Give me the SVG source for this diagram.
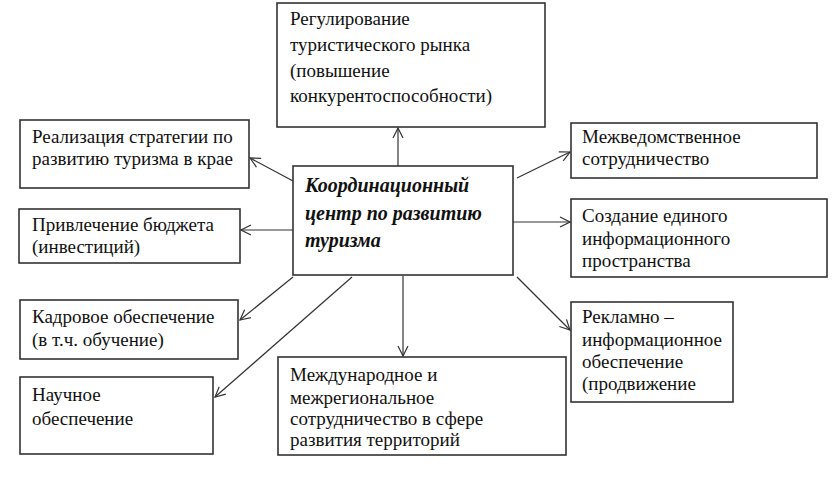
<svg xmlns="http://www.w3.org/2000/svg" width="832" height="484" viewBox="0 0 832 484">
<defs>
<marker id="arr" viewBox="0 0 12 12" refX="11" refY="6" markerWidth="12" markerHeight="12" markerUnits="userSpaceOnUse" orient="auto">
<path d="M1,1 L11,6 L1,11" fill="none" stroke="#333" stroke-width="1.2"/>
</marker>
</defs>
<rect width="832" height="484" fill="#fff"/>
<g id="connectors" stroke="#333" stroke-width="1.2" fill="none" marker-end="url(#arr)">
<line x1="398" y1="166" x2="398" y2="128"/>
<line x1="293" y1="181" x2="250" y2="158"/>
<line x1="293" y1="230" x2="241" y2="230"/>
<line x1="293" y1="277" x2="240" y2="320"/>
<line x1="352" y1="277" x2="215" y2="397"/>
<line x1="403" y1="276" x2="403" y2="356"/>
<line x1="517" y1="277" x2="570" y2="330"/>
<line x1="517" y1="178" x2="570" y2="152"/>
<line x1="513" y1="222" x2="570" y2="222"/>
</g>
<g id="nodes" fill="#111" font-size="19" font-family="Times New Roman, Liberation Serif, serif">
<g id="n-top">
<rect fill="#fff" stroke="#333" stroke-width="1.6" x="277" y="3" width="268" height="124"/>
<text x="290" y="25">Регулирование</text>
<text x="290" y="51">туристического рынка</text>
<text x="290" y="77">(повышение</text>
<text x="290" y="102">конкурентоспособности)</text>
</g>
<g id="n-center" font-size="20" font-weight="bold" font-style="italic">
<rect fill="#fff" stroke="#333" stroke-width="1.6" x="293" y="166" width="220" height="109"/>
<text x="305" y="192">Координационный</text>
<text x="305" y="220">центр по развитию</text>
<text x="305" y="247">туризма</text>
</g>
<g id="n-l1">
<rect fill="#fff" stroke="#333" stroke-width="1.6" x="20" y="120" width="229" height="68"/>
<text x="32" y="143">Реализация стратегии по</text>
<text x="32" y="165">развитию туризма в крае</text>
</g>
<g id="n-l2">
<rect fill="#fff" stroke="#333" stroke-width="1.6" x="19" y="209" width="221" height="54"/>
<text x="32" y="231">Привлечение бюджета</text>
<text x="32" y="253">(инвестиций)</text>
</g>
<g id="n-l3">
<rect fill="#fff" stroke="#333" stroke-width="1.6" x="20" y="300" width="218" height="59"/>
<text x="32" y="323">Кадровое обеспечение</text>
<text x="32" y="346">(в т.ч. обучение)</text>
</g>
<g id="n-l4">
<rect fill="#fff" stroke="#333" stroke-width="1.6" x="20" y="377" width="193" height="77"/>
<text x="32" y="401">Научное</text>
<text x="32" y="425">обеспечение</text>
</g>
<g id="n-bottom">
<rect fill="#fff" stroke="#333" stroke-width="1.6" x="278" y="357" width="288" height="98"/>
<text x="290" y="381">Международное и</text>
<text x="290" y="404">межрегиональное</text>
<text x="290" y="425">сотрудничество в сфере</text>
<text x="290" y="446">развития территорий</text>
</g>
<g id="n-r1">
<rect fill="#fff" stroke="#333" stroke-width="1.6" x="571" y="123" width="246" height="55"/>
<text x="582" y="143">Межведомственное</text>
<text x="582" y="165">сотрудничество</text>
</g>
<g id="n-r2">
<rect fill="#fff" stroke="#333" stroke-width="1.6" x="571" y="199" width="256" height="78"/>
<text x="582" y="222">Создание единого</text>
<text x="582" y="245">информационного</text>
<text x="582" y="267">пространства</text>
</g>
<g id="n-r3">
<rect fill="#fff" stroke="#333" stroke-width="1.6" x="571" y="302" width="162" height="100"/>
<text x="582" y="323">Рекламно –</text>
<text x="582" y="346">информационное</text>
<text x="582" y="368">обеспечение</text>
<text x="582" y="390">(продвижение</text>
</g>
</g>
</svg>
